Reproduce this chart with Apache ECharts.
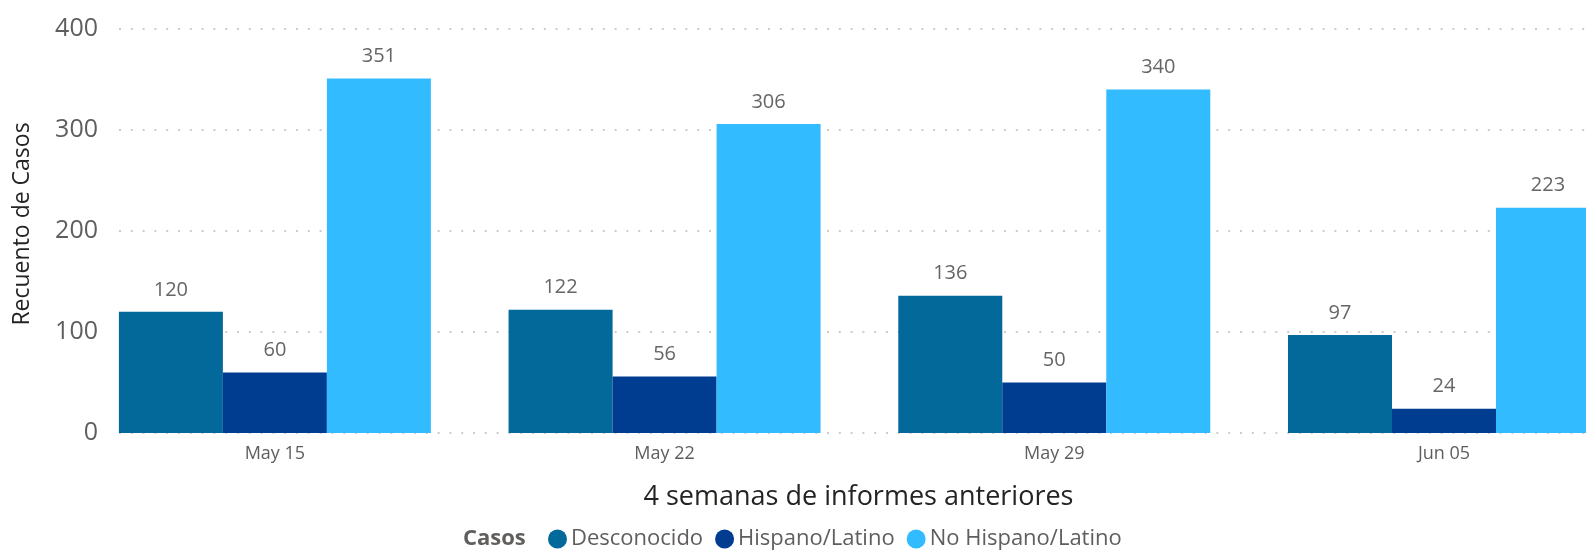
<!DOCTYPE html>
<html>
<head>
<meta charset="utf-8">
<title>Casos por semana</title>
<script src="https://cdn.jsdelivr.net/npm/echarts@6/dist/echarts.min.js"></script>
<style>
  html, body { margin: 0; padding: 0; background: #fff; }
  #chart { width: 1586px; height: 550px; }
</style>
</head>
<body>
<div id="chart"></div>
<script>
// datos
const weeks = ['May 15', 'May 22', 'May 29', 'Jun 05'];
const seriesNames = ['Desconocido', 'Hispano/Latino', 'No Hispano/Latino'];
const desconocido = [120, 122, 136, 97];
const hispano = [60, 56, 50, 24];
const noHispano = [351, 306, 340, 223];
const yTicks = [0, 100, 200, 300, 400];

const colors = ['#03689A', '#003C8F', '#33BBFF'];
const font = "'Open Sans', 'Noto Sans', sans-serif";

let chart = echarts.init(document.getElementById('chart'));

// x como eje de valor para poder dejar el inicio de la rejilla justo en la primera barra
function toPoints(arr) {
  return arr.map((v, i) => [i, v]);
}

function barSeries(name, arr, color) {
  return {
    name: name,
    type: 'bar',
    data: toPoints(arr),
    barWidth: 104,
    barGap: '0%',
    itemStyle: { color: color },
    label: {
      show: true,
      position: 'top',
      distance: 12,
      color: '#666666',
      fontFamily: font,
      fontSize: 20,
      formatter: p => p.value[1]
    }
  };
}

chart.setOption({
  animation: false,
  textStyle: { fontFamily: font },
  grid: {
    left: 119,
    right: 0,
    top: 29,
    bottom: 117
  },
  xAxis: {
    type: 'value',
    min: -0.4,
    max: 3.3644,
    name: '4 semanas de informes anteriores',
    nameLocation: 'middle',
    nameGap: 51,
    nameTextStyle: { color: '#252423', fontSize: 27, fontFamily: font, padding: [0, 0, 0, 12] },
    axisLine: { show: false },
    axisTick: { show: false },
    splitLine: { show: false },
    axisLabel: {
      customValues: [0, 1, 2, 3],
      formatter: v => weeks[Math.round(v)],
      color: '#605E5C',
      fontSize: 18,
      fontFamily: font,
      margin: 12
    }
  },
  yAxis: {
    type: 'value',
    min: yTicks[0],
    max: yTicks[yTicks.length - 1],
    interval: 100,
    name: 'Recuento de Casos',
    nameLocation: 'middle',
    nameGap: 85,
    nameTextStyle: { color: '#252423', fontSize: 23, fontFamily: font, padding: [0, 0, 0, 14] },
    axisLine: { show: false },
    axisTick: { show: false },
    axisLabel: {
      color: '#605E5C',
      fontSize: 25,
      fontFamily: font,
      margin: 21
    },
    splitLine: {
      lineStyle: { color: '#CCCCCC', width: 2, type: [2, 9.8] }
    }
  },
  legend: {
    data: seriesNames,
    left: 543,
    top: 523,
    icon: 'circle',
    itemWidth: 19,
    itemHeight: 19,
    itemGap: 12,
    textStyle: { color: '#605E5C', fontSize: 22, fontFamily: font, padding: [0, 0, 0, -1] }
  },
  graphic: [{
    type: 'text',
    x: 463,
    y: 539,
    style: {
      text: 'Casos',
      fill: '#605E5C',
      verticalAlign: 'middle',
      font: "bold 22px 'Open Sans', sans-serif"
    }
  }],
  series: [
    barSeries(seriesNames[0], desconocido, colors[0]),
    barSeries(seriesNames[1], hispano, colors[1]),
    barSeries(seriesNames[2], noHispano, colors[2])
  ]
});
</script>
</body>
</html>
